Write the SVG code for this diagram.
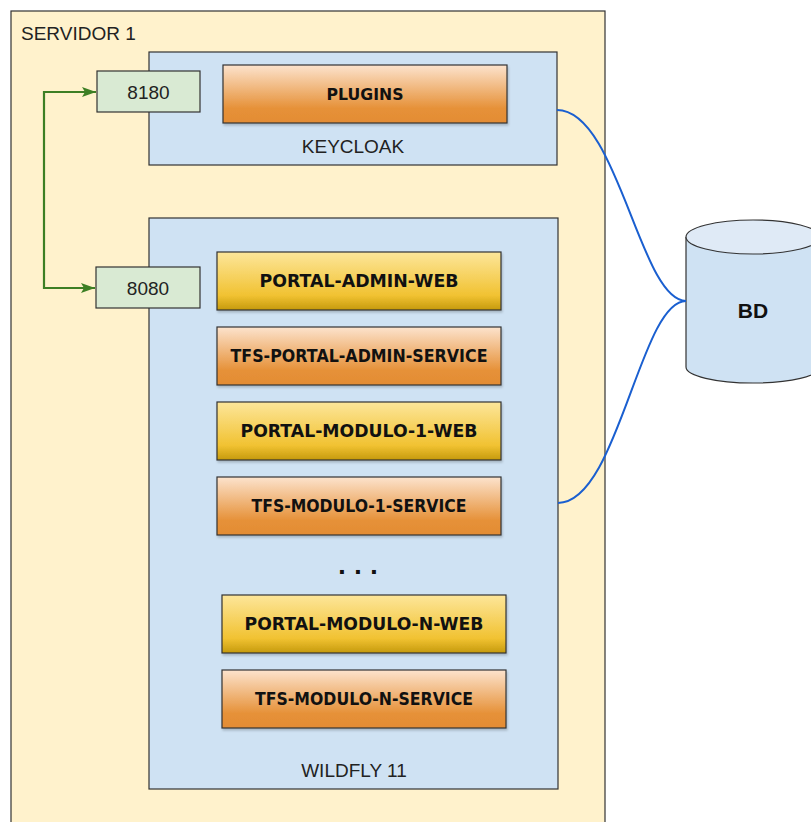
<svg xmlns="http://www.w3.org/2000/svg" width="811" height="822" viewBox="0 0 811 822">
<defs>
<linearGradient id="gy" x1="0" y1="0" x2="0" y2="1">
<stop offset="0" stop-color="#fde69a"/>
<stop offset="0.75" stop-color="#f1c232"/>
<stop offset="1" stop-color="#c59a0c"/>
</linearGradient>
<linearGradient id="go" x1="0" y1="0" x2="0" y2="1">
<stop offset="0" stop-color="#fce3cd"/>
<stop offset="0.75" stop-color="#e69138"/>
<stop offset="1" stop-color="#e38c34"/>
</linearGradient>
<filter id="sh" x="-5%" y="-10%" width="110%" height="130%">
<feDropShadow dx="1" dy="2" stdDeviation="1" flood-color="#000" flood-opacity="0.2"/>
</filter>
<marker id="ag" viewBox="0 0 14 10" refX="14" refY="5" markerWidth="14" markerHeight="10" orient="auto-start-reverse" markerUnits="userSpaceOnUse">
<path d="M0,0 L14,5 L0,10 L3,5 Z" fill="#3d7f24"/>
</marker>
</defs>
<style>
.lbl{font-family:"Liberation Sans",Arial,sans-serif;font-size:19px;fill:#222;}
.mod{font-family:"DejaVu Sans",Verdana,sans-serif;font-weight:bold;font-size:17px;fill:#111;text-anchor:middle;}
.cont{fill:#cfe2f3;stroke:#333;stroke-width:1.2;}
.port{fill:#d9ead3;stroke:#333;stroke-width:1.2;}
.yb{fill:url(#gy);stroke:#333;stroke-width:1.2;filter:url(#sh);}
.ob{fill:url(#go);stroke:#333;stroke-width:1.2;filter:url(#sh);}
.db{fill:none;stroke:#1a5fd0;stroke-width:2;}
.gl{fill:none;stroke:#3d7f24;stroke-width:2.2;}
</style>
<rect width="811" height="822" fill="#ffffff"/>
<g id="servidor">
<rect x="11" y="11" width="594" height="830" fill="#fff2cc" stroke="#333" stroke-width="1.2"/>
<text class="lbl" x="21" y="40">SERVIDOR 1</text>
</g>
<g id="keycloak">
<rect class="cont" x="149" y="52" width="408" height="113"/>
<text class="lbl" x="353" y="153" text-anchor="middle">KEYCLOAK</text>
</g>
<g id="plugins">
<rect class="ob" x="223" y="65" width="284" height="58"/>
<text class="mod" x="365" y="100" style="font-size:15px" textLength="77" lengthAdjust="spacingAndGlyphs">PLUGINS</text>
</g>
<g id="port8180">
<rect class="port" x="97" y="71" width="103" height="41"/>
<text class="lbl" x="148.5" y="99" text-anchor="middle">8180</text>
</g>
<g id="wildfly">
<rect class="cont" x="149" y="218" width="409" height="571"/>
<text class="lbl" x="354" y="777" text-anchor="middle">WILDFLY 11</text>
</g>
<g id="port8080">
<rect class="port" x="96" y="267" width="104" height="41"/>
<text class="lbl" x="148" y="295" text-anchor="middle">8080</text>
</g>
<g id="portal-admin-web">
<rect class="yb" x="217" y="252" width="284" height="58"/>
<text class="mod" x="359" y="287" textLength="199" lengthAdjust="spacingAndGlyphs">PORTAL-ADMIN-WEB</text>
</g>
<g id="tfs-portal-admin-service">
<rect class="ob" x="217" y="327" width="284" height="58"/>
<text class="mod" x="359" y="362" textLength="257" lengthAdjust="spacingAndGlyphs">TFS-PORTAL-ADMIN-SERVICE</text>
</g>
<g id="portal-modulo-1-web">
<rect class="yb" x="217" y="402" width="284" height="58"/>
<text class="mod" x="359" y="437" textLength="237" lengthAdjust="spacingAndGlyphs">PORTAL-MODULO-1-WEB</text>
</g>
<g id="tfs-modulo-1-service">
<rect class="ob" x="217" y="477" width="284" height="58"/>
<text class="mod" x="359" y="512" textLength="215" lengthAdjust="spacingAndGlyphs">TFS-MODULO-1-SERVICE</text>
</g>
<g id="dots">
<text class="mod" x="358" y="574" style="font-size:22px">. . .</text>
</g>
<g id="portal-modulo-n-web">
<rect class="yb" x="222" y="595" width="284" height="58"/>
<text class="mod" x="364" y="630" textLength="239" lengthAdjust="spacingAndGlyphs">PORTAL-MODULO-N-WEB</text>
</g>
<g id="tfs-modulo-n-service">
<rect class="ob" x="222" y="670" width="284" height="58"/>
<text class="mod" x="364" y="705" textLength="218" lengthAdjust="spacingAndGlyphs">TFS-MODULO-N-SERVICE</text>
</g>
<g id="bd">
<path d="M686,237 V367 A67,16 0 0 0 820,367 V237" fill="#cfe2f3" stroke="#333" stroke-width="1.2"/>
<ellipse cx="753" cy="237" rx="67" ry="17" fill="#dfeaf6" stroke="#333" stroke-width="1.2"/>
<text x="753" y="318" text-anchor="middle" style="font-family:'Liberation Sans',Arial,sans-serif;font-weight:bold;font-size:21px;fill:#111">BD</text>
</g>
<g id="connectors">
<path class="gl" d="M96,92 H44 V288 H95" marker-start="url(#ag)" marker-end="url(#ag)"/>
<path class="db" d="M557,110 C618,110 640,301 686,301"/>
<path class="db" d="M558,503 C618,503 640,301 686,301"/>
</g>
</svg>
